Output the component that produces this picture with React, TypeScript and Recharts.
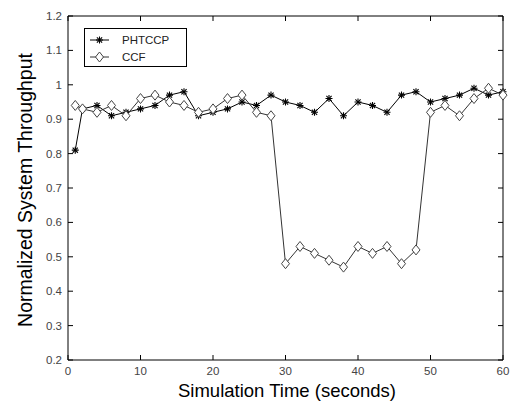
import {
  LineChart,
  Line,
  XAxis,
  YAxis,
  Legend,
  ReferenceArea,
} from "recharts";

const times = [1, 2, 4, 6, 8, 10, 12, 14, 16, 18, 20, 22, 24, 26, 28, 30, 32, 34, 36, 38, 40, 42, 44, 46, 48, 50, 52, 54, 56, 58, 60];
const phtccp = [0.81, 0.93, 0.94, 0.91, 0.92, 0.93, 0.94, 0.97, 0.98, 0.91, 0.92, 0.93, 0.95, 0.94, 0.97, 0.95, 0.94, 0.92, 0.96, 0.91, 0.95, 0.94, 0.92, 0.97, 0.98, 0.95, 0.96, 0.97, 0.99, 0.97, 0.98];
const ccf = [0.94, 0.93, 0.92, 0.94, 0.91, 0.96, 0.97, 0.95, 0.94, 0.92, 0.93, 0.96, 0.97, 0.92, 0.91, 0.48, 0.53, 0.51, 0.49, 0.47, 0.53, 0.51, 0.53, 0.48, 0.52, 0.92, 0.94, 0.91, 0.96, 0.99, 0.97];
const xTicks = [0, 10, 20, 30, 40, 50, 60];
const yTicks = [0.2, 0.3, 0.4, 0.5, 0.6, 0.7, 0.8, 0.9, 1.0, 1.1, 1.2];

const data = times.map((t, i) => ({ t, phtccp: phtccp[i], ccf: ccf[i] }));

// plot box edges (px)
const LEFT = 68;
const RIGHT = 503;
const TOP = 16;
const BOTTOM = 360;
const FONT = "'Liberation Sans', Arial, sans-serif";

const Star = (props: any) => {
  const { cx, cy, stroke } = props;
  if (cx == null || cy == null) return null;
  const r = 3.5;
  const d = 2.6;
  return (
    <g stroke={stroke} strokeWidth={1.1}>
      <line x1={cx - r} y1={cy} x2={cx + r} y2={cy} />
      <line x1={cx} y1={cy - r} x2={cx} y2={cy + r} />
      <line x1={cx - d} y1={cy - d} x2={cx + d} y2={cy + d} />
      <line x1={cx - d} y1={cy + d} x2={cx + d} y2={cy - d} />
    </g>
  );
};

const Diamond = (props: any) => {
  const { cx, cy, stroke } = props;
  if (cx == null || cy == null) return null;
  const w = 4;
  const h = 5;
  return (
    <polygon
      points={`${cx},${cy - h} ${cx + w},${cy} ${cx},${cy + h} ${cx - w},${cy}`}
      fill="#fff"
      stroke={stroke}
      strokeWidth={1}
    />
  );
};

const XTick = (props: any) => {
  const { x, payload } = props;
  return (
    <g>
      <line x1={x} y1={BOTTOM} x2={x} y2={BOTTOM - 5} stroke="#000" />
      <line x1={x} y1={TOP} x2={x} y2={TOP + 5} stroke="#000" />
      <text x={x} y={375} textAnchor="middle" fontSize={11.5} fill="#444" fontFamily={FONT}>
        {payload.value}
      </text>
    </g>
  );
};

const YTick = (props: any) => {
  const { y, payload } = props;
  const label = String(Number(payload.value.toFixed(1)));
  return (
    <g>
      <line x1={LEFT} y1={y} x2={LEFT + 5} y2={y} stroke="#000" />
      <line x1={RIGHT} y1={y} x2={RIGHT - 5} y2={y} stroke="#000" />
      <text x={62} y={y + 4} textAnchor="end" fontSize={11.5} fill="#444" fontFamily={FONT}>
        {label}
      </text>
    </g>
  );
};

const LegendBox = () => (
  <div
    style={{
      width: 103,
      height: 39,
      border: "1px solid #000",
      background: "#fff",
      boxSizing: "border-box",
      position: "relative",
    }}
  >
    <svg width={103} height={39} style={{ position: "absolute", left: -1, top: -1 }}>
      <line x1={6} y1={12} x2={25} y2={12} stroke="#000" />
      <Star cx={15.5} cy={12} stroke="#000" />
      <line x1={6} y1={29} x2={25} y2={29} stroke="#333" />
      <Diamond cx={15.5} cy={29} stroke="#444" />
      <text x={38} y={16} fontSize={11.5} fill="#222" fontFamily={FONT}>PHTCCP</text>
      <text x={38} y={33} fontSize={11.5} fill="#222" fontFamily={FONT}>CCF</text>
    </svg>
  </div>
);

export default function App() {
  return (
    <div style={{ position: "absolute", left: 0, top: 0, width: 510, height: 403, background: "#fff" }}>
      <LineChart width={510} height={403} data={data} margin={{ top: TOP, right: 510 - RIGHT, bottom: 0, left: 0 }}>
        <XAxis
          dataKey="t"
          type="number"
          domain={[0, 60]}
          ticks={xTicks}
          height={403 - BOTTOM}
          tickLine={false}
          axisLine={false}
          tick={<XTick />}
          interval={0}
        />
        <YAxis
          type="number"
          domain={[0.2, 1.2]}
          ticks={yTicks}
          width={LEFT}
          tickLine={false}
          axisLine={false}
          tick={<YTick />}
          interval={0}
          allowDataOverflow
        />
        <ReferenceArea x1={0} x2={60} y1={0.2} y2={1.2} fill="none" stroke="#000" strokeWidth={1} ifOverflow="visible" />
        <Legend
          layout="vertical"
          verticalAlign="middle"
          align="center"
          content={<LegendBox />}
          wrapperStyle={{ position: "absolute", left: 84, top: 28, width: 103, height: 39 }}
        />
        <Line
          dataKey="phtccp"
          stroke="#000"
          strokeWidth={1}
          dot={<Star />}
          activeDot={false}
          isAnimationActive={false}
        />
        <Line
          dataKey="ccf"
          stroke="#333"
          strokeWidth={1}
          dot={<Diamond stroke="#444" />}
          activeDot={false}
          isAnimationActive={false}
        />
        <text
          x={287}
          y={397}
          textAnchor="middle"
          fontSize={18.5}
          fill="#000"
          fontFamily={FONT}
        >
          Simulation Time (seconds)
        </text>
        <text
          x={32}
          y={190}
          textAnchor="middle"
          fontSize={19.5}
          fill="#000"
          fontFamily={FONT}
          transform="rotate(-90 32 190)"
        >
          Normalized System Throughput
        </text>
      </LineChart>
    </div>
  );
}
